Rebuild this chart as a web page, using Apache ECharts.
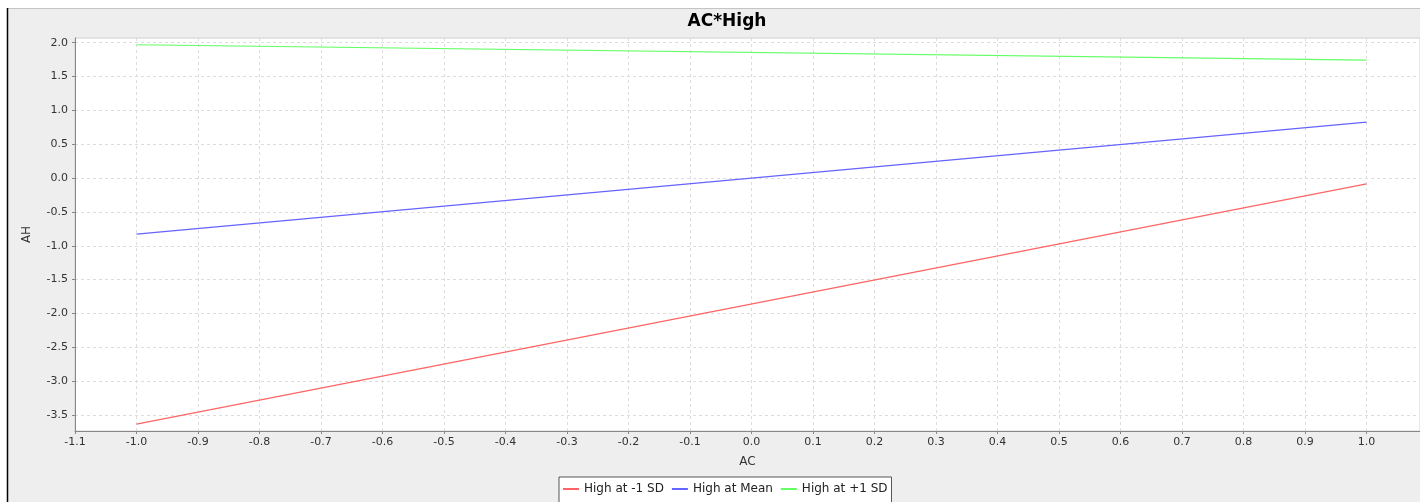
<!DOCTYPE html>
<html>
<head>
<meta charset="utf-8">
<script src="https://cdn.jsdelivr.net/npm/echarts@6/dist/echarts.min.js"></script>
<style>
html, body { margin: 0; padding: 0; background: #fff; }
#chart { width: 1420px; height: 502px; }
</style>
</head>
<body>
<div id="chart"></div>
<script>
var acValues = [-1.0, 1.0];
var lowSD = [-3.636, -0.085];
var atMean = [-0.828, 0.828];
var highSD = [1.970, 1.742];
var seriesNames = ['High at -1 SD', 'High at Mean', 'High at +1 SD'];
var seriesColors = ['#ff6464', '#6464ff', '#64ff64'];
var yTicks = [-3.5, -3.0, -2.5, -2.0, -1.5, -1.0, -0.5, 0.0, 0.5, 1.0, 1.5, 2.0];

function pairs(ys) {
    var out = [];
    for (var i = 0; i < acValues.length; i++) {
        out.push([acValues[i], ys[i]]);
    }
    return out;
}

var myChart = echarts.init(document.getElementById('chart'));
var font = 'DejaVu Sans, sans-serif';

var option = {
    backgroundColor: '#ffffff',
    animation: false,
    graphic: [
        {
            type: 'rect', z: -10, silent: true,
            shape: { x: 7, y: 8, width: 1440, height: 520 },
            style: { fill: '#eeeeee' }
        },
        {
            type: 'line', z: -9, silent: true,
            shape: { x1: 7, y1: 8.5, x2: 1420, y2: 8.5 },
            style: { stroke: '#c4c4c4', lineWidth: 1 }
        },
        {
            type: 'line', z: -9, silent: true,
            shape: { x1: 7.5, y1: 8, x2: 7.5, y2: 502 },
            style: { stroke: '#000000', lineWidth: 1.5 }
        }
    ],
    title: {
        text: 'AC*High',
        left: 722,
        textAlign: 'center',
        top: 8,
        textStyle: { fontFamily: font, fontSize: 17, fontWeight: 'bold', color: '#000' }
    },
    legend: {
        data: seriesNames,
        left: 559,
        top: 477,
        orient: 'horizontal',
        itemWidth: 16,
        itemHeight: 2,
        itemGap: 8,
        icon: 'rect',
        borderColor: '#555555',
        borderWidth: 1,
        borderRadius: 0,
        padding: [6, 4, 12, 4],
        backgroundColor: '#ffffff',
        textStyle: { fontFamily: font, fontSize: 12, color: '#222' }
    },
    grid: {
        left: 75,
        right: 0,
        top: 38,
        bottom: 71,
        show: true,
        backgroundColor: '#ffffff',
        borderColor: '#d0d0d0',
        borderWidth: 1
    },
    xAxis: {
        type: 'value',
        min: -1.1,
        max: 1.087,
        interval: 0.1,
        name: 'AC',
        nameLocation: 'middle',
        nameGap: 25,
        nameTextStyle: { fontFamily: font, fontSize: 12, color: '#333' },
        axisLine: { show: true, onZero: false, lineStyle: { color: '#888888', width: 1 } },
        axisTick: { show: true, length: 3, lineStyle: { color: '#888888' } },
        axisLabel: {
            fontFamily: font, fontSize: 11, color: '#333', margin: 6,
            showMaxLabel: false,
            formatter: function (v) { return v.toFixed(1); }
        },
        splitLine: { show: true, lineStyle: { color: '#dddddd', type: [3, 3], width: 1 } }
    },
    yAxis: {
        type: 'value',
        min: -3.737,
        max: 2.07,
        name: 'AH',
        nameLocation: 'middle',
        nameGap: 42,
        nameRotate: 90,
        nameTextStyle: { fontFamily: font, fontSize: 12, color: '#333' },
        axisLine: { show: true, onZero: false, lineStyle: { color: '#888888', width: 1 } },
        axisTick: { show: true, length: 3, lineStyle: { color: '#888888' }, customValues: yTicks },
        axisLabel: {
            fontFamily: font, fontSize: 11, color: '#333', margin: 7,
            customValues: yTicks,
            formatter: function (v) { return v.toFixed(1); }
        },
        splitLine: { show: true, lineStyle: { color: '#dddddd', type: [3, 3], width: 1 } }
    },
    series: [
        { name: seriesNames[0], type: 'line', data: pairs(lowSD) },
        { name: seriesNames[1], type: 'line', data: pairs(atMean) },
        { name: seriesNames[2], type: 'line', data: pairs(highSD) }
    ].map(function (s, i) {
        s.color = seriesColors[i];
        s.showSymbol = false;
        s.symbol = 'none';
        s.lineStyle = { width: 1.2, color: seriesColors[i] };
        return s;
    })
};

myChart.setOption(option, true);
</script>
</body>
</html>
